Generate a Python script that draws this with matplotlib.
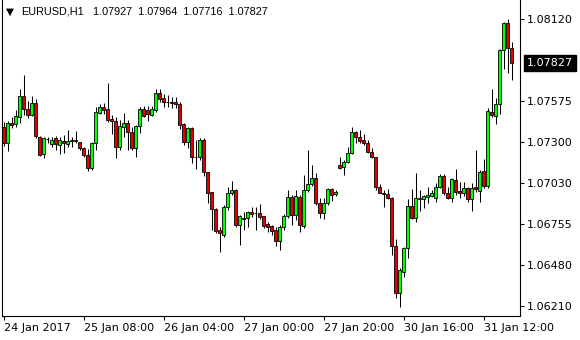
import numpy as np
import matplotlib.pyplot as plt
from matplotlib import transforms

# EURUSD H1 bars, 24 Jan 2017 12:00 -> 31 Jan 2017 19:00
opens = [1.07399, 1.07292, 1.07426, 1.07421, 1.07470, 1.07607, 1.07519, 1.07481, 1.07559, 1.07336,
         1.07219, 1.07321, 1.07288, 1.07326, 1.07281, 1.07310, 1.07288, 1.07310, 1.07314, 1.07299,
         1.07259, 1.07214, 1.07126, 1.07292, 1.07492, 1.07532, 1.07519, 1.07454, 1.07443, 1.07266,
         1.07403, 1.07426, 1.07370, 1.07259, 1.07408, 1.07519, 1.07514, 1.07481, 1.07514, 1.07625,
         1.07592, 1.07568, 1.07566, 1.07566, 1.07554, 1.07419, 1.07303, 1.07392, 1.07203, 1.07201,
         1.07314, 1.07099, 1.06966, 1.06855, 1.06715, 1.06681, 1.06866, 1.06959, 1.06981, 1.06748,
         1.06797, 1.06793, 1.06833, 1.06826, 1.06826, 1.06808, 1.06755, 1.06741, 1.06715, 1.06644,
         1.06733, 1.06808, 1.06933, 1.06815, 1.06937, 1.06741, 1.06981, 1.07021, 1.07059, 1.06893,
         1.06826, 1.06893, 1.06986, 1.06955, 1.07148, 1.07132, 1.07166, 1.07226, 1.07366, 1.07332,
         1.07314, 1.07292, 1.07236, 1.07199, 1.06999, 1.06963, 1.06955, 1.06926, 1.06608, 1.06293,
         1.06437, 1.06593, 1.06875, 1.06797, 1.06919, 1.06919, 1.06937, 1.06943, 1.06926, 1.06999,
         1.07074, 1.06963, 1.06926, 1.07048, 1.06977, 1.06959, 1.06993, 1.06919, 1.06999, 1.06977,
         1.07108, 1.07008, 1.07499, 1.07476, 1.07552, 1.07914, 1.08092, 1.07927]
highs = [1.07436, 1.07441, 1.07470, 1.07514, 1.07652, 1.07747, 1.07576, 1.07607, 1.07586, 1.07341,
         1.07336, 1.07336, 1.07332, 1.07341, 1.07336, 1.07348, 1.07381, 1.07332, 1.07376, 1.07303,
         1.07266, 1.07252, 1.07303, 1.07536, 1.07552, 1.07559, 1.07692, 1.07481, 1.07466, 1.07448,
         1.07492, 1.07448, 1.07403, 1.07414, 1.07536, 1.07541, 1.07541, 1.07541, 1.07652, 1.07652,
         1.07621, 1.07614, 1.07599, 1.07603, 1.07570, 1.07430, 1.07403, 1.07403, 1.07314, 1.07326,
         1.07326, 1.07103, 1.06970, 1.06859, 1.06737, 1.06881, 1.06999, 1.07041, 1.06986, 1.06815,
         1.06837, 1.06843, 1.06866, 1.06870, 1.06888, 1.06808, 1.06770, 1.06748, 1.06737, 1.06748,
         1.06821, 1.06981, 1.06948, 1.06981, 1.06948, 1.07081, 1.07248, 1.07148, 1.07092, 1.06926,
         1.06926, 1.06993, 1.06993, 1.06981, 1.07203, 1.07181, 1.07266, 1.07399, 1.07376, 1.07381,
         1.07354, 1.07314, 1.07259, 1.07203, 1.07021, 1.06981, 1.06986, 1.06933, 1.06653, 1.06460,
         1.06603, 1.06919, 1.06986, 1.07096, 1.06981, 1.06948, 1.07003, 1.06981, 1.07026, 1.07086,
         1.07088, 1.07003, 1.07059, 1.07119, 1.07036, 1.07036, 1.07003, 1.07026, 1.07248, 1.07114,
         1.07188, 1.07526, 1.07652, 1.07592, 1.07919, 1.08102, 1.08118, 1.07964]
lows = [1.07274, 1.07243, 1.07392, 1.07403, 1.07430, 1.07481, 1.07459, 1.07474, 1.07328, 1.07208,
        1.07196, 1.07292, 1.07266, 1.07248, 1.07221, 1.07226, 1.07266, 1.07266, 1.07296, 1.07248,
        1.07203, 1.07110, 1.07114, 1.07248, 1.07488, 1.07488, 1.07436, 1.07354, 1.07192, 1.07248,
        1.07336, 1.07248, 1.07248, 1.07199, 1.07359, 1.07466, 1.07443, 1.07474, 1.07501, 1.07570,
        1.07534, 1.07534, 1.07526, 1.07526, 1.07388, 1.07281, 1.07259, 1.07159, 1.07119, 1.07181,
        1.07074, 1.06893, 1.06715, 1.06693, 1.06570, 1.06670, 1.06848, 1.06948, 1.06737, 1.06615,
        1.06715, 1.06737, 1.06803, 1.06715, 1.06786, 1.06726, 1.06703, 1.06681, 1.06608, 1.06582,
        1.06715, 1.06793, 1.06748, 1.06781, 1.06703, 1.06726, 1.06970, 1.07008, 1.06881, 1.06793,
        1.06786, 1.06881, 1.06910, 1.06941, 1.07119, 1.07081, 1.07159, 1.07219, 1.07296, 1.07292,
        1.07281, 1.07226, 1.07196, 1.06981, 1.06959, 1.06866, 1.06919, 1.06548, 1.06260, 1.06200,
        1.06400, 1.06526, 1.06788, 1.06770, 1.06843, 1.06859, 1.06897, 1.06933, 1.06903, 1.06993,
        1.06948, 1.06919, 1.06903, 1.06948, 1.06926, 1.06941, 1.06903, 1.06843, 1.06970, 1.06903,
        1.06993, 1.06993, 1.07470, 1.07421, 1.07488, 1.07785, 1.07759, 1.07716]
closes = [1.07292, 1.07426, 1.07412, 1.07474, 1.07607, 1.07519, 1.07481, 1.07559, 1.07341, 1.07214,
          1.07326, 1.07318, 1.07314, 1.07288, 1.07314, 1.07292, 1.07310, 1.07314, 1.07308, 1.07259,
          1.07214, 1.07126, 1.07292, 1.07499, 1.07536, 1.07514, 1.07448, 1.07443, 1.07266, 1.07408,
          1.07426, 1.07370, 1.07259, 1.07408, 1.07519, 1.07474, 1.07488, 1.07519, 1.07627, 1.07586,
          1.07566, 1.07566, 1.07563, 1.07552, 1.07414, 1.07303, 1.07392, 1.07203, 1.07201, 1.07314,
          1.07103, 1.06963, 1.06853, 1.06710, 1.06693, 1.06866, 1.06959, 1.06981, 1.06748, 1.06808,
          1.06786, 1.06833, 1.06821, 1.06826, 1.06803, 1.06743, 1.06737, 1.06710, 1.06644, 1.06733,
          1.06808, 1.06933, 1.06815, 1.06941, 1.06748, 1.06981, 1.07021, 1.07059, 1.06893, 1.06826,
          1.06893, 1.06986, 1.06948, 1.06970, 1.07126, 1.07166, 1.07226, 1.07366, 1.07332, 1.07310,
          1.07292, 1.07236, 1.07203, 1.06999, 1.06963, 1.06953, 1.06926, 1.06608, 1.06293, 1.06448,
          1.06593, 1.06875, 1.06797, 1.06926, 1.06926, 1.06941, 1.06948, 1.06963, 1.07003, 1.07074,
          1.06963, 1.06926, 1.07053, 1.06970, 1.06959, 1.06993, 1.06919, 1.06993, 1.06986, 1.07099,
          1.07010, 1.07510, 1.07481, 1.07552, 1.07914, 1.08092, 1.07925, 1.07827]

tick_bars = [0, 20, 40, 60, 80, 100, 120]
tick_labels = ['24 Jan 2017', '25 Jan 08:00', '26 Jan 04:00', '27 Jan 00:00',
               '27 Jan 20:00', '30 Jan 16:00', '31 Jan 12:00']
price_ticks = [1.06210, 1.06480, 1.06755, 1.07030, 1.07300, 1.07575, 1.08120]
symbol = 'EURUSD,H1'

o = np.array(opens)
h = np.array(highs)
l = np.array(lows)
c = np.array(closes)
x = np.arange(len(o))
up = c >= o

fig = plt.figure(figsize=(5.8, 3.4), dpi=100, facecolor='white')
ax = fig.add_axes([2/580, 24/340, 518/580, 316/340])

# wicks under the bodies
ax.vlines(x, l, h, color='black', linewidth=0.75, zorder=1)
body_lo = np.minimum(o, c)
body_h = np.maximum(np.abs(c - o), 0.00001)
ax.bar(x, body_h, bottom=body_lo, width=0.8,
       color=np.where(up, '#00ff00', '#e00000'), edgecolor='black', linewidth=0.6, zorder=2)

ax.set_xlim(-0.375, 129.1)
ax.set_ylim(1.06141, 1.08247)

ax.spines['top'].set_visible(False)
for s in ['left', 'right', 'bottom']:
    ax.spines[s].set_linewidth(0.8)

ax.yaxis.tick_right()
ax.set_yticks(price_ticks)
ax.set_yticklabels([f'{p:.5f}' for p in price_ticks])
ax.tick_params(axis='y', direction='out', length=3, width=0.8, pad=2, labelsize=8)

ax.set_xticks(tick_bars)
ax.set_xticklabels(tick_labels, ha='left')
ax.tick_params(axis='x', direction='out', length=3, width=0.8, pad=2, labelsize=8)

# current price label
trans = transforms.blended_transform_factory(ax.transAxes, ax.transData)
ax.annotate(f'{c[-1]:.5f}', xy=(1.0, c[-1]), xycoords=trans,
            xytext=(5, 0), textcoords='offset points', ha='left', va='center',
            color='white', fontsize=8,
            bbox=dict(boxstyle='square,pad=0.3', fc='black', ec='black'))

# header
fig.text(6/580, 1 - 12/340, '\u25BC', fontsize=7.5, va='center', ha='left', color='black')
fig.text(21/580, 1 - 12/340, symbol, fontsize=7.8, family='Liberation Sans',
         va='center', ha='left', color='black')
fig.text(93/580, 1 - 12/340, '  '.join(f'{v:.5f}' for v in (o[-1], h[-1], l[-1], c[-1])),
         fontsize=7.8, family='Liberation Sans', va='center', ha='left', color='black')

fig.savefig('out.png', dpi=100)
